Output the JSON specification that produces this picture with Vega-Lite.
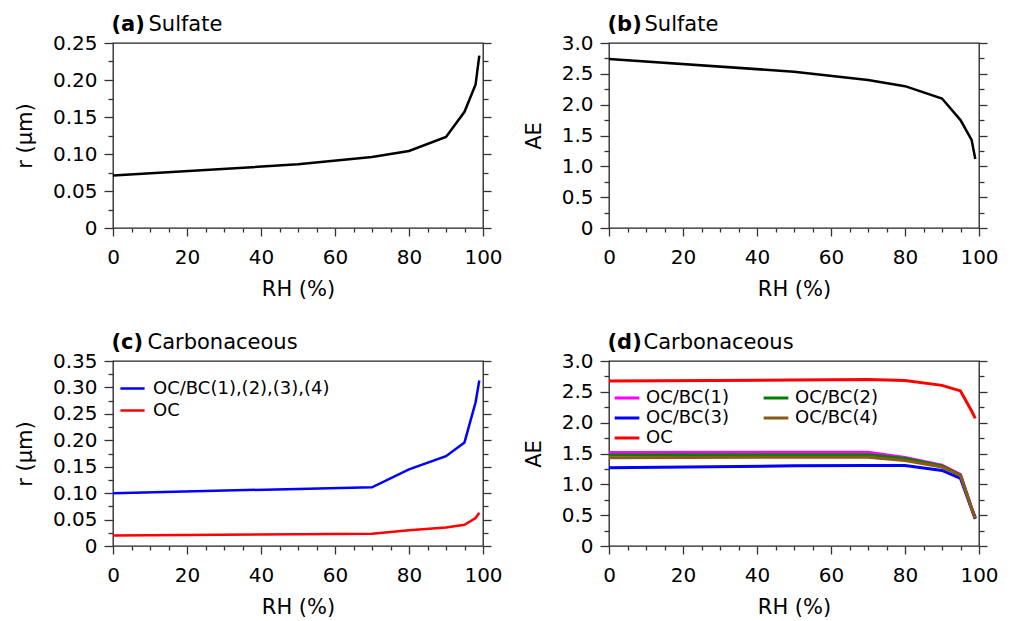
{
  "$schema": "https://vega.github.io/schema/vega-lite/v6.json",
  "background": "white",
  "padding": {"left": 13, "top": 12, "right": 5, "bottom": 5},
  "datasets": {
    "sulfate": [
      {"RH": 0, "r": 0.071, "AE": 2.74},
      {"RH": 50, "r": 0.086, "AE": 2.535},
      {"RH": 70, "r": 0.096, "AE": 2.40},
      {"RH": 80, "r": 0.104, "AE": 2.30},
      {"RH": 90, "r": 0.123, "AE": 2.10},
      {"RH": 95, "r": 0.157, "AE": 1.75},
      {"RH": 98, "r": 0.194, "AE": 1.43},
      {"RH": 99, "r": 0.233, "AE": 1.12}
    ],
    "carb_r": [
      {"series": "OC/BC(1),(2),(3),(4)", "RH": 0, "r": 0.100},
      {"series": "OC/BC(1),(2),(3),(4)", "RH": 50, "r": 0.108},
      {"series": "OC/BC(1),(2),(3),(4)", "RH": 70, "r": 0.111},
      {"series": "OC/BC(1),(2),(3),(4)", "RH": 80, "r": 0.145},
      {"series": "OC/BC(1),(2),(3),(4)", "RH": 90, "r": 0.170},
      {"series": "OC/BC(1),(2),(3),(4)", "RH": 95, "r": 0.196},
      {"series": "OC/BC(1),(2),(3),(4)", "RH": 98, "r": 0.272},
      {"series": "OC/BC(1),(2),(3),(4)", "RH": 99, "r": 0.313},
      {"series": "OC", "RH": 0, "r": 0.020},
      {"series": "OC", "RH": 50, "r": 0.022},
      {"series": "OC", "RH": 70, "r": 0.023},
      {"series": "OC", "RH": 80, "r": 0.030},
      {"series": "OC", "RH": 90, "r": 0.035},
      {"series": "OC", "RH": 95, "r": 0.040},
      {"series": "OC", "RH": 98, "r": 0.053},
      {"series": "OC", "RH": 99, "r": 0.063}
    ],
    "carb_ae": [
      {"series": "OC/BC(1)", "RH": 0, "AE": 1.515},
      {"series": "OC/BC(1)", "RH": 50, "AE": 1.52},
      {"series": "OC/BC(1)", "RH": 70, "AE": 1.52},
      {"series": "OC/BC(1)", "RH": 80, "AE": 1.435},
      {"series": "OC/BC(1)", "RH": 90, "AE": 1.31},
      {"series": "OC/BC(1)", "RH": 95, "AE": 1.16},
      {"series": "OC/BC(1)", "RH": 98, "AE": 0.62},
      {"series": "OC/BC(1)", "RH": 99, "AE": 0.46},
      {"series": "OC/BC(2)", "RH": 0, "AE": 1.475},
      {"series": "OC/BC(2)", "RH": 50, "AE": 1.48},
      {"series": "OC/BC(2)", "RH": 70, "AE": 1.48},
      {"series": "OC/BC(2)", "RH": 80, "AE": 1.42},
      {"series": "OC/BC(2)", "RH": 90, "AE": 1.30},
      {"series": "OC/BC(2)", "RH": 95, "AE": 1.15},
      {"series": "OC/BC(2)", "RH": 98, "AE": 0.61},
      {"series": "OC/BC(2)", "RH": 99, "AE": 0.45},
      {"series": "OC/BC(3)", "RH": 0, "AE": 1.27},
      {"series": "OC/BC(3)", "RH": 50, "AE": 1.30},
      {"series": "OC/BC(3)", "RH": 70, "AE": 1.305},
      {"series": "OC/BC(3)", "RH": 80, "AE": 1.305},
      {"series": "OC/BC(3)", "RH": 90, "AE": 1.225},
      {"series": "OC/BC(3)", "RH": 95, "AE": 1.095},
      {"series": "OC/BC(3)", "RH": 98, "AE": 0.60},
      {"series": "OC/BC(3)", "RH": 99, "AE": 0.44},
      {"series": "OC/BC(4)", "RH": 0, "AE": 1.43},
      {"series": "OC/BC(4)", "RH": 50, "AE": 1.44},
      {"series": "OC/BC(4)", "RH": 70, "AE": 1.44},
      {"series": "OC/BC(4)", "RH": 80, "AE": 1.385},
      {"series": "OC/BC(4)", "RH": 90, "AE": 1.28},
      {"series": "OC/BC(4)", "RH": 95, "AE": 1.14},
      {"series": "OC/BC(4)", "RH": 98, "AE": 0.61},
      {"series": "OC/BC(4)", "RH": 99, "AE": 0.45},
      {"series": "OC", "RH": 0, "AE": 2.675},
      {"series": "OC", "RH": 50, "AE": 2.69},
      {"series": "OC", "RH": 70, "AE": 2.70},
      {"series": "OC", "RH": 80, "AE": 2.685},
      {"series": "OC", "RH": 90, "AE": 2.605},
      {"series": "OC", "RH": 95, "AE": 2.515},
      {"series": "OC", "RH": 98, "AE": 2.19},
      {"series": "OC", "RH": 99, "AE": 2.07}
    ]
  },
  "columns": 2,
  "bounds": "flush",
  "spacing": {"row": 133, "column": 126},
  "resolve": {"scale": {"color": "independent"}, "legend": {"color": "independent"}},
  "concat": [
    {
      "width": 370, "height": 185,
      "data": {"name": "sulfate"},
      "layer": [
        {"mark": {"type": "line", "color": "black", "strokeWidth": 2.5},
         "encoding": {
           "x": {"field": "RH", "type": "quantitative", "scale": {"domain": [0, 100], "nice": false, "zero": false},
                 "axis": {"orient": "bottom", "values": [0, 20, 40, 60, 80, 100], "tickSize": 8, "labelPadding": 11, "title": "RH (%)", "titlePadding": 11}},
           "y": {"field": "r", "type": "quantitative", "scale": {"domain": [0, 0.25], "nice": false},
                 "axis": {"orient": "left", "values": [0, 0.05, 0.1, 0.15, 0.2, 0.25], "tickSize": 9, "labelPadding": 7, "labelExpr": "datum.value == 0 ? '0' : format(datum.value, '.2f')", "title": "r (µm)", "titlePadding": 17}}
         }},
        {"mark": {"type": "line", "opacity": 0},
         "encoding": {
           "x": {"field": "RH", "type": "quantitative", "scale": {"domain": [0, 100], "nice": false, "zero": false},
                 "axis": {"orient": "bottom", "values": [5, 10, 15, 25, 30, 35, 45, 50, 55, 65, 70, 75, 85, 90, 95], "tickSize": 4, "labels": false, "title": null}},
           "y": {"field": "r", "type": "quantitative", "scale": {"domain": [0, 0.25], "nice": false},
                 "axis": {"orient": "left", "values": [0.025, 0.075, 0.125, 0.175, 0.225], "tickSize": 5, "labels": false, "title": null}}
         }},
        {"mark": {"type": "line", "opacity": 0},
         "encoding": {
           "x": {"field": "RH", "type": "quantitative", "scale": {"domain": [0, 100], "nice": false, "zero": false},
                 "axis": {"orient": "top", "ticks": false, "labels": false, "title": "(a)", "titleFontWeight": "bold", "titleX": -2, "titleY": -13, "titleAlign": "left", "titleBaseline": "alphabetic"}},
           "y": {"field": "r", "type": "quantitative", "scale": {"domain": [0, 0.25], "nice": false},
                 "axis": {"orient": "right", "values": [0, 0.05, 0.1, 0.15, 0.2, 0.25], "tickSize": 8, "labels": false, "title": null}}
         }},
        {"mark": {"type": "line", "opacity": 0},
         "encoding": {
           "x": {"field": "RH", "type": "quantitative", "scale": {"domain": [0, 100], "nice": false, "zero": false},
                 "axis": {"orient": "top", "ticks": false, "labels": false, "title": "Sulfate", "titleX": 35, "titleY": -13, "titleAlign": "left", "titleBaseline": "alphabetic"}},
           "y": {"field": "r", "type": "quantitative", "scale": {"domain": [0, 0.25], "nice": false},
                 "axis": {"orient": "right", "values": [0.025, 0.075, 0.125, 0.175, 0.225], "tickSize": 5, "labels": false, "title": null}}
         }}
      ],
      "resolve": {"axis": {"x": "independent", "y": "independent"}}
    },
    {
      "width": 370, "height": 185,
      "data": {"name": "sulfate"},
      "layer": [
        {"mark": {"type": "line", "color": "black", "strokeWidth": 2.5},
         "encoding": {
           "x": {"field": "RH", "type": "quantitative", "scale": {"domain": [0, 100], "nice": false, "zero": false},
                 "axis": {"orient": "bottom", "values": [0, 20, 40, 60, 80, 100], "tickSize": 8, "labelPadding": 11, "title": "RH (%)", "titlePadding": 11}},
           "y": {"field": "AE", "type": "quantitative", "scale": {"domain": [0, 3], "nice": false},
                 "axis": {"orient": "left", "values": [0, 0.5, 1, 1.5, 2, 2.5, 3], "tickSize": 9, "labelPadding": 7, "labelExpr": "datum.value == 0 ? '0' : format(datum.value, '.1f')", "title": "AE", "titlePadding": 17}}
         }},
        {"mark": {"type": "line", "opacity": 0},
         "encoding": {
           "x": {"field": "RH", "type": "quantitative", "scale": {"domain": [0, 100], "nice": false, "zero": false},
                 "axis": {"orient": "bottom", "values": [5, 10, 15, 25, 30, 35, 45, 50, 55, 65, 70, 75, 85, 90, 95], "tickSize": 4, "labels": false, "title": null}},
           "y": {"field": "AE", "type": "quantitative", "scale": {"domain": [0, 3], "nice": false},
                 "axis": {"orient": "left", "values": [0.25, 0.75, 1.25, 1.75, 2.25, 2.75], "tickSize": 5, "labels": false, "title": null}}
         }},
        {"mark": {"type": "line", "opacity": 0},
         "encoding": {
           "x": {"field": "RH", "type": "quantitative", "scale": {"domain": [0, 100], "nice": false, "zero": false},
                 "axis": {"orient": "top", "ticks": false, "labels": false, "title": "(b)", "titleFontWeight": "bold", "titleX": -2, "titleY": -13, "titleAlign": "left", "titleBaseline": "alphabetic"}},
           "y": {"field": "AE", "type": "quantitative", "scale": {"domain": [0, 3], "nice": false},
                 "axis": {"orient": "right", "values": [0, 0.5, 1, 1.5, 2, 2.5, 3], "tickSize": 8, "labels": false, "title": null}}
         }},
        {"mark": {"type": "line", "opacity": 0},
         "encoding": {
           "x": {"field": "RH", "type": "quantitative", "scale": {"domain": [0, 100], "nice": false, "zero": false},
                 "axis": {"orient": "top", "ticks": false, "labels": false, "title": "Sulfate", "titleX": 35, "titleY": -13, "titleAlign": "left", "titleBaseline": "alphabetic"}},
           "y": {"field": "AE", "type": "quantitative", "scale": {"domain": [0, 3], "nice": false},
                 "axis": {"orient": "right", "values": [0.25, 0.75, 1.25, 1.75, 2.25, 2.75], "tickSize": 5, "labels": false, "title": null}}
         }}
      ],
      "resolve": {"axis": {"x": "independent", "y": "independent"}}
    },
    {
      "width": 370, "height": 185,
      "data": {"name": "carb_r"},
      "layer": [
        {"mark": {"type": "line", "strokeWidth": 2.5},
         "encoding": {
           "x": {"field": "RH", "type": "quantitative", "scale": {"domain": [0, 100], "nice": false, "zero": false},
                 "axis": {"orient": "bottom", "values": [0, 20, 40, 60, 80, 100], "tickSize": 8, "labelPadding": 11, "title": "RH (%)", "titlePadding": 11}},
           "y": {"field": "r", "type": "quantitative", "scale": {"domain": [0, 0.35], "nice": false},
                 "axis": {"orient": "left", "values": [0, 0.05, 0.1, 0.15, 0.2, 0.25, 0.3, 0.35], "tickSize": 9, "labelPadding": 7, "labelExpr": "datum.value == 0 ? '0' : format(datum.value, '.2f')", "title": "r (µm)", "titlePadding": 17}},
           "color": {"field": "series", "type": "nominal",
                     "scale": {"domain": ["OC/BC(1),(2),(3),(4)", "OC"], "range": ["#0000ff", "#ff0000"]},
                     "legend": {"title": null, "orient": "none", "legendX": 7, "legendY": 15, "symbolType": "M-1.1,0H1.1", "symbolSize": 484, "symbolStrokeWidth": 2.5, "labelFontSize": 18, "labelOffset": 8, "labelLimit": 400, "rowPadding": 0, "padding": 0}}
         }},
        {"mark": {"type": "line", "opacity": 0},
         "encoding": {
           "x": {"field": "RH", "type": "quantitative", "scale": {"domain": [0, 100], "nice": false, "zero": false},
                 "axis": {"orient": "bottom", "values": [5, 10, 15, 25, 30, 35, 45, 50, 55, 65, 70, 75, 85, 90, 95], "tickSize": 4, "labels": false, "title": null}},
           "y": {"field": "r", "type": "quantitative", "scale": {"domain": [0, 0.35], "nice": false},
                 "axis": {"orient": "left", "values": [0.025, 0.075, 0.125, 0.175, 0.225, 0.275, 0.325], "tickSize": 5, "labels": false, "title": null}}
         }},
        {"mark": {"type": "line", "opacity": 0},
         "encoding": {
           "x": {"field": "RH", "type": "quantitative", "scale": {"domain": [0, 100], "nice": false, "zero": false},
                 "axis": {"orient": "top", "ticks": false, "labels": false, "title": "(c)", "titleFontWeight": "bold", "titleX": -2, "titleY": -13, "titleAlign": "left", "titleBaseline": "alphabetic"}},
           "y": {"field": "r", "type": "quantitative", "scale": {"domain": [0, 0.35], "nice": false},
                 "axis": {"orient": "right", "values": [0, 0.05, 0.1, 0.15, 0.2, 0.25, 0.3, 0.35], "tickSize": 8, "labels": false, "title": null}}
         }},
        {"mark": {"type": "line", "opacity": 0},
         "encoding": {
           "x": {"field": "RH", "type": "quantitative", "scale": {"domain": [0, 100], "nice": false, "zero": false},
                 "axis": {"orient": "top", "ticks": false, "labels": false, "title": "Carbonaceous", "titleX": 34, "titleY": -13, "titleAlign": "left", "titleBaseline": "alphabetic"}},
           "y": {"field": "r", "type": "quantitative", "scale": {"domain": [0, 0.35], "nice": false},
                 "axis": {"orient": "right", "values": [0.025, 0.075, 0.125, 0.175, 0.225, 0.275, 0.325], "tickSize": 5, "labels": false, "title": null}}
         }}
      ],
      "resolve": {"axis": {"x": "independent", "y": "independent"}}
    },
    {
      "width": 370, "height": 185,
      "data": {"name": "carb_ae"},
      "layer": [
        {"mark": {"type": "line", "strokeWidth": 3},
         "encoding": {
           "x": {"field": "RH", "type": "quantitative", "scale": {"domain": [0, 100], "nice": false, "zero": false},
                 "axis": {"orient": "bottom", "values": [0, 20, 40, 60, 80, 100], "tickSize": 8, "labelPadding": 11, "title": "RH (%)", "titlePadding": 11}},
           "y": {"field": "AE", "type": "quantitative", "scale": {"domain": [0, 3], "nice": false},
                 "axis": {"orient": "left", "values": [0, 0.5, 1, 1.5, 2, 2.5, 3], "tickSize": 9, "labelPadding": 7, "labelExpr": "datum.value == 0 ? '0' : format(datum.value, '.1f')", "title": "AE", "titlePadding": 17}},
           "color": {"field": "series", "type": "nominal",
                     "scale": {"domain": ["OC/BC(1)", "OC/BC(2)", "OC/BC(3)", "OC/BC(4)", "OC"], "range": ["#ff00ff", "#008000", "#0000ff", "#8b5a14", "#ff0000"]},
                     "legend": {"title": null, "orient": "none", "direction": "horizontal", "legendX": 7, "legendY": 26, "columns": 2, "columnPadding": 28, "symbolType": "M-1.3,0H1.3", "symbolSize": 361, "symbolStrokeWidth": 3, "labelFontSize": 18, "labelOffset": 8, "rowPadding": 0, "padding": 0}}
         }},
        {"mark": {"type": "line", "opacity": 0},
         "encoding": {
           "x": {"field": "RH", "type": "quantitative", "scale": {"domain": [0, 100], "nice": false, "zero": false},
                 "axis": {"orient": "bottom", "values": [5, 10, 15, 25, 30, 35, 45, 50, 55, 65, 70, 75, 85, 90, 95], "tickSize": 4, "labels": false, "title": null}},
           "y": {"field": "AE", "type": "quantitative", "scale": {"domain": [0, 3], "nice": false},
                 "axis": {"orient": "left", "values": [0.25, 0.75, 1.25, 1.75, 2.25, 2.75], "tickSize": 5, "labels": false, "title": null}}
         }},
        {"mark": {"type": "line", "opacity": 0},
         "encoding": {
           "x": {"field": "RH", "type": "quantitative", "scale": {"domain": [0, 100], "nice": false, "zero": false},
                 "axis": {"orient": "top", "ticks": false, "labels": false, "title": "(d)", "titleFontWeight": "bold", "titleX": -2, "titleY": -13, "titleAlign": "left", "titleBaseline": "alphabetic"}},
           "y": {"field": "AE", "type": "quantitative", "scale": {"domain": [0, 3], "nice": false},
                 "axis": {"orient": "right", "values": [0, 0.5, 1, 1.5, 2, 2.5, 3], "tickSize": 8, "labels": false, "title": null}}
         }},
        {"mark": {"type": "line", "opacity": 0},
         "encoding": {
           "x": {"field": "RH", "type": "quantitative", "scale": {"domain": [0, 100], "nice": false, "zero": false},
                 "axis": {"orient": "top", "ticks": false, "labels": false, "title": "Carbonaceous", "titleX": 34, "titleY": -13, "titleAlign": "left", "titleBaseline": "alphabetic"}},
           "y": {"field": "AE", "type": "quantitative", "scale": {"domain": [0, 3], "nice": false},
                 "axis": {"orient": "right", "values": [0.25, 0.75, 1.25, 1.75, 2.25, 2.75], "tickSize": 5, "labels": false, "title": null}}
         }}
      ],
      "resolve": {"axis": {"x": "independent", "y": "independent"}}
    }
  ],
  "config": {
    "font": "DejaVu Sans",
    "view": {"stroke": "#222222", "strokeWidth": 1.3},
    "axis": {
      "grid": false, "domain": false,
      "tickColor": "#333333", "tickWidth": 1.3,
      "labelFont": "DejaVu Sans", "labelFontSize": 20, "labelColor": "black",
      "labelFlush": false, "labelOverlap": false, "labelBound": false,
      "titleFont": "DejaVu Sans", "titleFontSize": 21, "titleFontWeight": "normal", "titleColor": "black"
    },
    "axisTop": {"titleFontSize": 21},
    "legend": {"labelFont": "DejaVu Sans", "labelColor": "black"}
  }
}
